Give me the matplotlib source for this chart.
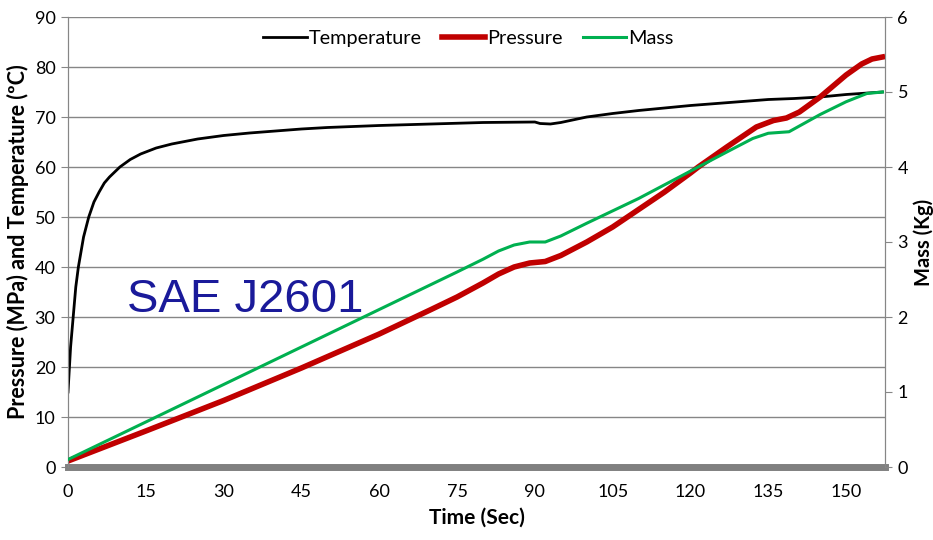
import numpy as np
import matplotlib.pyplot as plt

# values
temp_t = [0, 0.5, 1, 1.5, 2, 3, 4, 5, 6, 7, 8, 9, 10, 12, 14, 17, 20, 25, 30,
          35, 40, 45, 50, 60, 70, 80, 90, 91, 93, 95, 100, 105, 110, 115, 120,
          125, 130, 135, 140, 145, 150, 157]
temp_c = [15, 24, 30, 36, 40, 46, 50, 53, 55, 56.8, 58, 59, 60, 61.5, 62.6,
          63.8, 64.6, 65.6, 66.3, 66.8, 67.2, 67.6, 67.9, 68.3, 68.6, 68.9, 69,
          68.7, 68.6, 68.9, 70, 70.7, 71.3, 71.8, 72.3, 72.7, 73.1, 73.5, 73.7,
          74.0, 74.5, 75]

pres_t = [0, 15, 30, 45, 60, 70, 75, 80, 83, 86, 89, 92, 95, 100, 105, 110,
          115, 120, 121.5, 127, 132.7, 136, 138.5, 141, 145, 150, 153, 155, 157]
pres_mpa = [1.2, 7.2, 13.3, 19.8, 26.6, 31.5, 34, 36.8, 38.6, 40, 40.8, 41.1,
            42.3, 45, 48, 51.5, 55, 58.8, 60, 64, 68, 69.3, 69.8, 71, 74, 78.4,
            80.6, 81.6, 82]

mass_t = [0, 15, 30, 45, 60, 75, 80, 83, 86, 89, 92, 95, 100, 110, 121.5, 127,
          132, 135, 139, 145, 150, 154, 157]
mass_kg = [0.1, 0.6, 1.1, 1.6, 2.1, 2.6, 2.77, 2.88, 2.96, 3.0, 3.0, 3.08, 3.25,
           3.58, 4.0, 4.2, 4.38, 4.45, 4.47, 4.7, 4.87, 4.98, 5.0]

x_ticks = [0, 15, 30, 45, 60, 75, 90, 105, 120, 135, 150]

plt.rcParams['font.family'] = ['Lato', 'DejaVu Sans']
grid_col = '#868686'

fig = plt.figure(figsize=(9.33, 5.4), dpi=100)
ax = fig.add_axes([68 / 933, 73 / 540, 817 / 933, 450 / 540])
ax2 = ax.twinx()

l1, = ax.plot(temp_t, temp_c, color='black', lw=2, label='Temperature', zorder=3)
l2, = ax.plot(pres_t, pres_mpa, color='#C00000', lw=4, label='Pressure', zorder=4)
l3, = ax2.plot(mass_t, mass_kg, color='#00B050', lw=2.2, label='Mass', zorder=3)

ax.set_xlim(0, 157.5)
ax.set_ylim(0, 90)
ax2.set_ylim(0, 6)
ax.set_yticks(range(0, 91, 10))
ax2.set_yticks(range(0, 7))
ax.set_xticks(x_ticks)

ax.grid(axis='y', color=grid_col, lw=1)
ax.set_axisbelow(True)

for a in (ax, ax2):
    a.spines['top'].set_visible(False)
    a.spines['left'].set_color(grid_col)
    a.spines['right'].set_color(grid_col)
    a.spines['bottom'].set_visible(False)
ax.axhline(0, color='#808080', lw=5, zorder=2, clip_on=False)

ax.tick_params(axis='y', length=5, color=grid_col, labelsize=13, pad=4)
ax2.tick_params(axis='y', length=5, color=grid_col, labelsize=13, pad=4)
ax.tick_params(axis='x', length=0, labelsize=13, pad=12)

ax.set_ylabel('Pressure (MPa) and Temperature (ºC)', fontsize=15.5,
              fontweight='bold', labelpad=4)
ax2.set_ylabel('Mass (Kg)', fontsize=14.5, fontweight='bold', labelpad=4)
ax.set_xlabel('Time (Sec)', fontsize=15, fontweight='bold', labelpad=6)

ax.text(11.3, 31, 'SAE J2601', family='Liberation Sans', fontsize=34,
        color='#1A1A9A', zorder=5)

ax2.legend(handles=[l1, l2, l3], loc='upper center', ncol=3, frameon=False,
           fontsize=14.3, handlelength=2.2, handletextpad=0.1, columnspacing=1.0,
           bbox_to_anchor=(0.49, 1.01))

fig.savefig('out.png', dpi=100)
